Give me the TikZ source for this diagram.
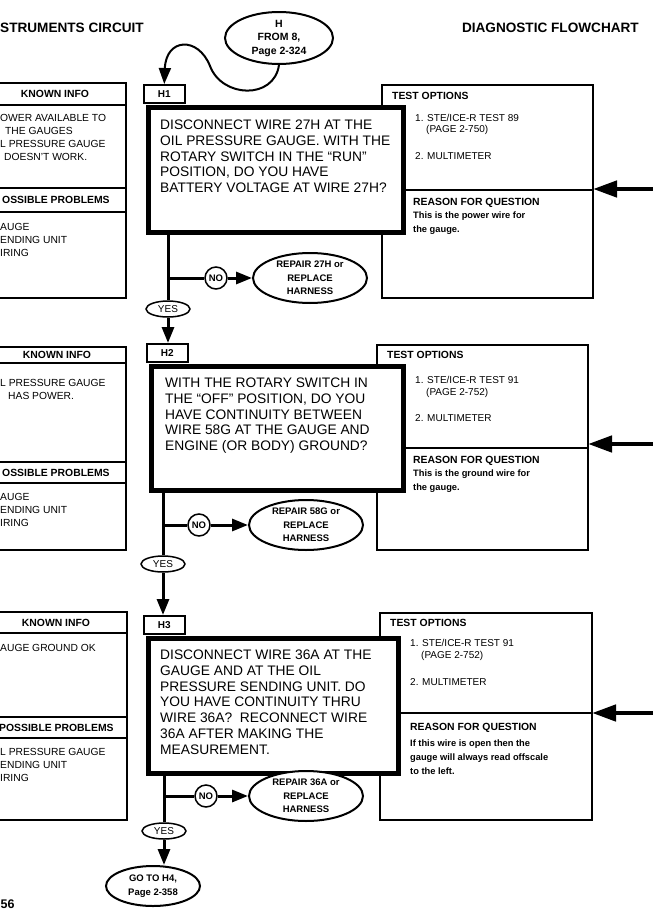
\documentclass[tikz,border=0pt]{standalone}
\usepackage{fontspec}
\setmainfont{Liberation Sans}
\usetikzlibrary{shapes.geometric,arrows.meta,positioning}

\begin{document}
\begin{tikzpicture}[
  x=1pt, y=-1pt,
  every node/.style = {inner sep=0pt},
  ttl/.style = {font=\fontsize{13.6}{16}\selectfont\bfseries, anchor=base west},
  hdr/.style = {font=\fontsize{10.4}{12}\selectfont\bfseries, anchor=base west},
  info/.style = {font=\fontsize{10.3}{13}\selectfont, align=left, anchor=north west},
  opt/.style = {font=\fontsize{10}{12}\selectfont, anchor=base west},
  why/.style = {font=\fontsize{9.3}{14}\selectfont\bfseries, align=left, anchor=north west},
  infobox/.style = {draw, line width=1.3pt},
  optbox/.style = {draw, line width=1.8pt},
  qbox/.style = {draw, line width=5pt, fill=white, anchor=north west},
  qtxt/.style = {font=\fontsize{13.8}{15.7}\selectfont, align=left, anchor=north west},
  tag/.style = {draw, line width=1.5pt, fill=white, minimum width=41pt, minimum height=18pt,
                anchor=north west, font=\fontsize{10}{12}\selectfont\bfseries},
  oval/.style = {draw, ellipse, line width=2pt, fill=white, align=center,
                 font=\fontsize{9.5}{13.5}\selectfont\bfseries},
  fix/.style = {oval, minimum width=114pt, minimum height=50pt},
  yes/.style = {draw, ellipse, line width=1.5pt, fill=white, minimum width=44pt,
                minimum height=16pt, font=\fontsize{10}{12}\selectfont},
  no/.style = {draw, circle, line width=1.5pt, fill=white, minimum size=22pt,
               font=\fontsize{9.5}{12}\selectfont\bfseries},
  flow/.style = {line width=3pt},
  go/.style = {flow, -{Triangle[length=16pt,width=12pt]}},
  feed/.style = {line width=4.5pt, -{Triangle[length=24pt,width=16pt]}}
]
\useasboundingbox (0,0) rectangle (653,913);
\clip (0,0) rectangle (653,913);

% titles
\node[ttl] (circ) at (0,32) {STRUMENTS CIRCUIT};
\node[ttl, anchor=base east] (chart) at (639,32) {DIAGNOSTIC FLOWCHART};

\node[oval, minimum width=108pt, minimum height=52pt, font=\fontsize{10.5}{13.5}\selectfont\bfseries]
  (from8) at (279,38) {H\\FROM 8,\\Page 2-324};

% ---- H1 ----
\draw[infobox] (-20,83) rectangle (126,298) (-20,105) -- (126,105)
  (-20,188) -- (126,188) (-20,212) -- (126,212);
\node[hdr, anchor=center] (known1) at (55,94) {KNOWN INFO};
\node[info] (kn1) at (0,114.3) {OWER AVAILABLE TO\\\hspace*{5pt}THE GAUGES\\L PRESSURE GAUGE\\\hspace*{4pt}DOESN'T WORK.};
\node[hdr, anchor=west] (poss1) at (2,200) {OSSIBLE PROBLEMS};
\node[info] (pp1) at (0,223.3) {AUGE\\ENDING UNIT\\IRING};

\draw[optbox] (382,85) rectangle (593,298) (382,190) -- (593,190);
\node[hdr] (test1) at (392,99) {TEST OPTIONS};
\node[opt] (t1a) at (415,121) {1. STE/ICE-R TEST 89};
\node[opt] (t1b) at (426,132.5) {(PAGE 2-750)};
\node[opt] (t1c) at (415,159) {2. MULTIMETER};
\node[hdr] (reas1) at (413,205.5) {REASON FOR QUESTION};
\node[why] (why1) at (413,211.5) {This is the power wire for\\the gauge.};

\node[qbox, minimum width=255pt, minimum height=125pt] (q1) at (145.5,104.5) {};
\node[qtxt] (q1txt) at (160,120) {DISCONNECT WIRE 27H AT THE\\OIL PRESSURE GAUGE. WITH THE\\ROTARY SWITCH IN THE ``RUN''\\POSITION, DO YOU HAVE\\BATTERY VOLTAGE AT WIRE 27H?};
\node[tag] (h1) at (143,84) {H1};

\node[yes] (yes1) at (168,309) {YES};
\node[no] (no1) at (216,278) {NO};
\node[fix] (fix1) at (310,278) {REPAIR 27H or\\REPLACE\\HARNESS};

% ---- H2 ----
\draw[infobox] (-20,347) rectangle (126,550) (-20,363) -- (126,363)
  (-20,462) -- (126,462) (-20,483) -- (126,483);
\node[hdr, anchor=center] (known2) at (57,355) {KNOWN INFO};
\node[info] (kn2) at (0,379.3) {L PRESSURE GAUGE\\\hspace*{8pt}HAS POWER.};
\node[hdr, anchor=west] (poss2) at (2,472.5) {OSSIBLE PROBLEMS};
\node[info] (pp2) at (0,493.3) {AUGE\\ENDING UNIT\\IRING};

\draw[optbox] (377,345) rectangle (588,550) (377,448) -- (588,448);
\node[hdr] (test2) at (387,358.6) {TEST OPTIONS};
\node[opt] (t2a) at (415,383.6) {1. STE/ICE-R TEST 91};
\node[opt] (t2b) at (426,395.6) {(PAGE 2-752)};
\node[opt] (t2c) at (415,421.6) {2. MULTIMETER};
\node[hdr] (reas2) at (413,463.7) {REASON FOR QUESTION};
\node[why] (why2) at (413,470) {This is the ground wire for\\the gauge.};

\node[qbox, minimum width=252pt, minimum height=124pt] (q2) at (148.5,363.5) {};
\node[qtxt] (q2txt) at (165,378) {WITH THE ROTARY SWITCH IN\\THE ``OFF'' POSITION, DO YOU\\HAVE CONTINUITY BETWEEN\\WIRE 58G AT THE GAUGE AND\\ENGINE (OR BODY) GROUND?};
\node[tag] (h2) at (146,343) {H2};

\node[yes] (yes2) at (163,564) {YES};
\node[no] (no2) at (199,525) {NO};
\node[fix] (fix2) at (306,525) {REPAIR 58G or\\REPLACE\\HARNESS};

% ---- H3 ----
\draw[infobox] (-20,612) rectangle (127,820) (-20,633) -- (127,633)
  (-20,717) -- (127,717) (-20,738) -- (127,738);
\node[hdr, anchor=center] (known3) at (56,623) {KNOWN INFO};
\node[info, anchor=west] (kn3) at (0,648) {AUGE GROUND OK};
\node[hdr, anchor=west] (poss3) at (-1,727.5) {POSSIBLE PROBLEMS};
\node[info] (pp3) at (0,748.3) {L PRESSURE GAUGE\\ENDING UNIT\\IRING};

\draw[optbox] (380,613) rectangle (592,820) (380,713) -- (592,713);
\node[hdr] (test3) at (390,626.6) {TEST OPTIONS};
\node[opt] (t3a) at (410,646.6) {1. STE/ICE-R TEST 91};
\node[opt] (t3b) at (421,658.6) {(PAGE 2-752)};
\node[opt] (t3c) at (410,685.6) {2. MULTIMETER};
\node[hdr] (reas3) at (410,730.7) {REASON FOR QUESTION};
\node[why] (why3) at (410,739.5) {If this wire is open then the\\gauge will always read offscale\\to the left.};

\node[qbox, minimum width=250pt, minimum height=135pt] (q3) at (145.5,635.5) {};
\node[qtxt] (q3txt) at (160,650) {DISCONNECT WIRE 36A AT THE\\GAUGE AND AT THE OIL\\PRESSURE SENDING UNIT. DO\\YOU HAVE CONTINUITY THRU\\WIRE 36A?\ \ RECONNECT WIRE\\36A AFTER MAKING THE\\MEASUREMENT.};
\node[tag] (h3) at (143,615) {H3};

\node[yes] (yes3) at (164,831) {YES};
\node[no] (no3) at (206,796) {NO};
\node[fix] (fix3) at (306,796) {REPAIR 36A or\\REPLACE\\HARNESS};

\node[oval, minimum width=94pt, minimum height=40pt] (goh4) at (153,886) {GO TO H4,\\Page 2-358};
\node[ttl, font=\fontsize{12.5}{14}\selectfont\bfseries] (pg) at (0.5,908) {56};

% side feeds
\coordinate (in1) at (653,189);
\coordinate (in2) at (653,444);
\coordinate (in3) at (653,713);
\coordinate (opt1) at (593,189);
\coordinate (opt2) at (588,444);
\coordinate (opt3) at (592,713);
\draw[feed] (in1) -- (opt1);
\draw[feed] (in2) -- (opt2);
\draw[feed] (in3) -- (opt3);

% connectors
\draw[line width=2pt, -{Triangle[length=16pt,width=12pt]}] (from8.south)
  .. controls (274,100) and (222,98) .. (210,66)
  .. controls (198,36) and (166,38) .. (h1.north);

\draw[flow] (q1.south -| yes1) -- (yes1);
\draw[flow] (yes1 |- no1) -- (no1);
\draw[go] (no1) -- (fix1);
\draw[go] (yes1) -- (yes1 |- h2.north);

\draw[flow] (q2.south -| yes2) -- (yes2);
\draw[flow] (yes2 |- no2) -- (no2);
\draw[go] (no2) -- (fix2);
\draw[go] (yes2) -- (yes2 |- h3.north);

\draw[flow] (q3.south -| yes3) -- (yes3);
\draw[flow] (yes3 |- no3) -- (no3);
\draw[go] (no3) -- (fix3);
\draw[go] (yes3) -- (yes3 |- goh4.north);
\end{tikzpicture}
\end{document}
